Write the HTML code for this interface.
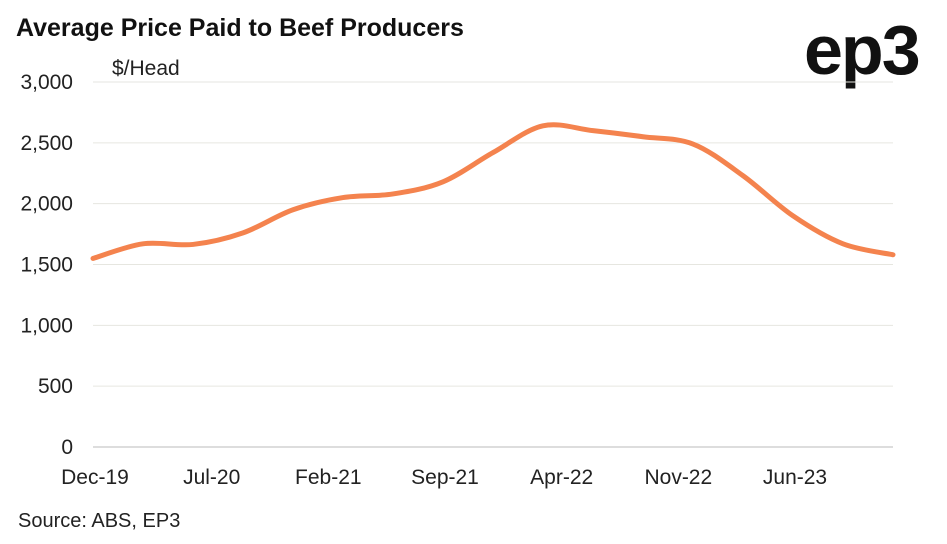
<!DOCTYPE html>
<html><head><meta charset="utf-8"><style>
body{margin:0;background:#fff;width:947px;height:539px;overflow:hidden;font-family:"Liberation Sans",sans-serif}
</style></head><body>
<svg id="chart" width="947" height="539">
<text x="16" y="36" font-size="25" font-weight="bold" fill="#111">Average Price Paid to Beef Producers</text>
<text x="804" y="74" font-size="70" font-weight="bold" fill="#111" letter-spacing="-2">ep3</text>
<text x="112" y="75" font-size="21" fill="#222">$/Head</text>
<text x="18" y="527" font-size="20" fill="#222">Source: ABS, EP3</text>
<g id="grid"></g><g id="yt"></g><g id="xt"></g>
<path id="line" fill="none" stroke="#F4834E" stroke-width="5" stroke-linejoin="round" stroke-linecap="round"/>
</svg>
<script>
const values=[1550,1670,1665,1760,1950,2050,2080,2180,2420,2640,2600,2550,2490,2230,1900,1670,1580];
const yTicks=[0,500,1000,1500,2000,2500,3000];
const xLabels=["Dec-19","Jul-20","Feb-21","Sep-21","Apr-22","Nov-22","Jun-23"];
const xLabelMonths=[0,7,14,21,28,35,42];
const x0=93,x1=893,y0=447,y1=82;
const X=m=>x0+(x1-x0)*m/48;
const Y=v=>y0-(y0-y1)*v/3000;
const ns="http://www.w3.org/2000/svg";
const g=document.getElementById('grid'),yt=document.getElementById('yt'),xt=document.getElementById('xt');
yTicks.forEach(v=>{
 const l=document.createElementNS(ns,'line');
 l.setAttribute('x1',x0);l.setAttribute('x2',x1);l.setAttribute('y1',Y(v));l.setAttribute('y2',Y(v));
 l.setAttribute('stroke',v===0?'#bbb':'#e6e6e0');l.setAttribute('stroke-width',1);
 
 
 g.appendChild(l);
 const t=document.createElementNS(ns,'text');
 t.setAttribute('x',73);t.setAttribute('y',Y(v)+7);t.setAttribute('text-anchor','end');
 t.setAttribute('font-size','21');t.setAttribute('fill','#222');
 t.textContent=v.toLocaleString('en-US');
 
 
 yt.appendChild(t);
});
xLabels.forEach((s,i)=>{
 const t=document.createElementNS(ns,'text');
 t.setAttribute('x',X(xLabelMonths[i])+2);t.setAttribute('y',484);t.setAttribute('text-anchor','middle');
 t.setAttribute('font-size','21');t.setAttribute('fill','#222');
 t.textContent=s;
 
 
 xt.appendChild(t);
});
const pts=values.map((v,i)=>[X(i*3),Y(v)]);
let d=`M${pts[0][0]},${pts[0][1]}`;
for(let i=0;i<pts.length-1;i++){
 const p0=pts[Math.max(0,i-1)],p1=pts[i],p2=pts[i+1],p3=pts[Math.min(pts.length-1,i+2)];
 const c1=[p1[0]+(p2[0]-p0[0])/6,p1[1]+(p2[1]-p0[1])/6];
 const c2=[p2[0]-(p3[0]-p1[0])/6,p2[1]-(p3[1]-p1[1])/6];
 d+=` C${c1[0]},${c1[1]} ${c2[0]},${c2[1]} ${p2[0]},${p2[1]}`;
}
document.getElementById('line').setAttribute('d',d);
</script>
</body></html>
